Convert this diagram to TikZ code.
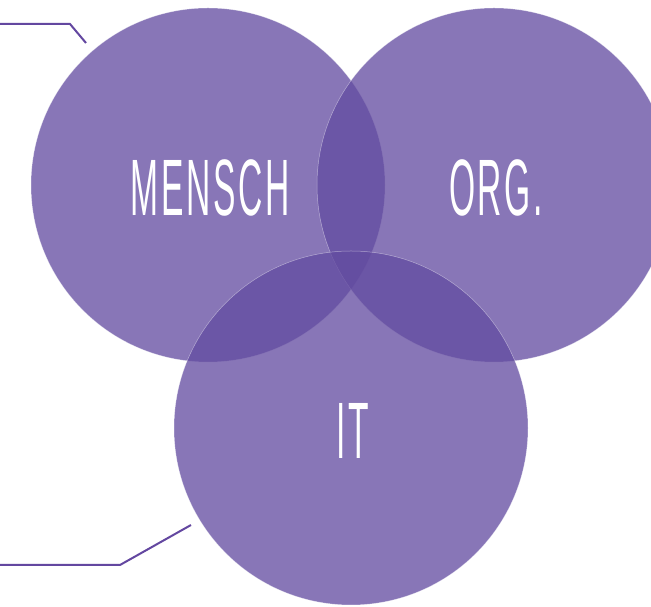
\documentclass[tikz,border=0pt]{standalone}
\usepackage{fontspec}
\setmainfont{Liberation Sans}
\newfontfamily\labfont[LetterSpace=8]{Liberation Sans}
\usetikzlibrary{positioning}
\definecolor{venn}{RGB}{98,75,160}
\definecolor{rule}{RGB}{99,71,160}

\begin{document}
\begin{tikzpicture}[
  x=1pt,y=1pt,
  set/.style={circle,fill=venn,fill opacity=0.76,draw=white,draw opacity=0.45,line width=0.5pt,minimum size=354pt,inner sep=0pt},
  lab/.style={text=white,font=\labfont\fontsize{80}{80}\selectfont,inner sep=0pt},
  rul/.style={draw=rule,line width=2pt}
]

\path[use as bounding box] (0,0) rectangle (651,607);
\clip (0,0) rectangle (651,607);

% circles
\node[set] (M) at (208,422) {};
\node[set] (O) at (494,422) {};
\node[set] (I) at (351,179) {};

% labels
\node[lab] (tM) at ([xshift=2,yshift=-3]M.center) {\scalebox{0.42}[1]{MENSCH}};
\node[lab] (tO) at ([xshift=2,yshift=-3]O.center) {\scalebox{0.42}[1]{ORG.}};
\node[lab] (tI) at ([xshift=2,yshift=-3]I.center) {\scalebox{0.42}[1]{IT}};

% side rules
\coordinate (a0) at (0,583);
\coordinate (a1) at (70,583);
\coordinate (a2) at (86,564);
\coordinate (b0) at (0,42);
\coordinate (b1) at (120,42);
\coordinate (b2) at (191,82);

\foreach \r in {a,b}
  \draw[rul] (\r0) -- (\r1) -- (\r2);

\end{tikzpicture}
\end{document}
